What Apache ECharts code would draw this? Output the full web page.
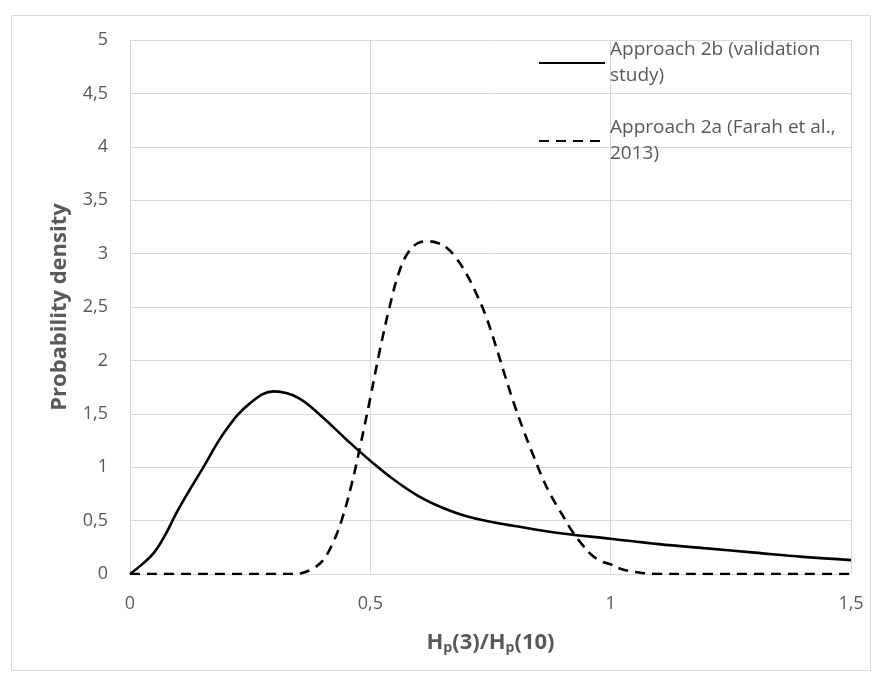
<!DOCTYPE html>
<html>
<head>
<meta charset="utf-8">
<script src="https://cdn.jsdelivr.net/npm/echarts@6/dist/echarts.min.js"></script>
<style>html,body{margin:0;padding:0;background:#fff}#c{width:878px;height:680px}</style>
</head>
<body>
<div id="c"></div>
<script>
// Approach 2b (validation study) - solid
const xB = [0, 0.025, 0.05, 0.075, 0.1, 0.15, 0.2, 0.25, 0.3, 0.35, 0.4, 0.45, 0.5, 0.55, 0.6, 0.65, 0.7, 0.75, 0.8, 0.9, 1.0, 1.1, 1.2, 1.3, 1.4, 1.5];
const yB = [0, 0.09, 0.2, 0.38, 0.6, 0.98, 1.35, 1.6, 1.71, 1.65, 1.47, 1.26, 1.06, 0.88, 0.73, 0.62, 0.54, 0.49, 0.45, 0.38, 0.33, 0.28, 0.24, 0.2, 0.16, 0.13];
// Approach 2a (Farah et al., 2013) - dashed
const xA = [0, 0.1, 0.2, 0.3, 0.34, 0.36, 0.38, 0.4, 0.42, 0.44, 0.46, 0.48, 0.5, 0.52, 0.54, 0.56, 0.58, 0.6, 0.62, 0.64, 0.66, 0.68, 0.7, 0.72, 0.74, 0.76, 0.78, 0.8, 0.82, 0.84, 0.86, 0.88, 0.9, 0.92, 0.94, 0.96, 0.98, 1.0, 1.02, 1.05, 1.1, 1.2, 1.3, 1.4, 1.5];
const yA = [0, 0, 0, 0, 0, 0.012, 0.05, 0.12, 0.27, 0.5, 0.82, 1.22, 1.65, 2.1, 2.5, 2.83, 3.02, 3.1, 3.115, 3.1, 3.05, 2.95, 2.81, 2.63, 2.42, 2.15, 1.86, 1.58, 1.33, 1.1, 0.88, 0.7, 0.55, 0.4, 0.28, 0.18, 0.12, 0.09, 0.05, 0.02, 0, 0, 0, 0, 0];
const seriesNames = ['Approach 2b (validation\nstudy)', 'Approach 2a (Farah et al.,\n2013)'];
const xTicks = [0, 0.5, 1, 1.5];
const yTicks = [0, 0.5, 1, 1.5, 2, 2.5, 3, 3.5, 4, 4.5, 5];

const FONT = '"Open Sans", "Noto Sans", sans-serif';
const TXT = '#595959';
const GRID = '#d9d9d9';
const fmt = v => String(v).replace('.', ',');

const chart = echarts.init(document.getElementById('c'), null, {renderer: 'canvas'});
chart.setOption({
  animation: false,
  backgroundColor: '#fff',
  textStyle: {fontFamily: FONT},
  graphic: [{
    type: 'rect', left: 9, top: 13, silent: true,
    shape: {width: 859, height: 655},
    style: {fill: 'none', stroke: GRID, lineWidth: 1}
  }],
  grid: {left: 130, right: 27, top: 40, bottom: 106},
  legend: {
    orient: 'vertical', left: 533, top: 19, itemGap: 0,
    itemWidth: 66, itemHeight: 14,
    data: seriesNames,
    itemStyle: {opacity: 0},
    textStyle: {fontFamily: FONT, fontSize: 19, color: TXT, lineHeight: 26, padding: [26, 0, 0, 0]}
  },
  xAxis: {
    type: 'value', min: xTicks[0], max: xTicks[xTicks.length - 1], interval: 0.5,
    axisLine: {show: true, lineStyle: {color: GRID, width: 1}},
    axisTick: {show: false},
    splitLine: {show: true, lineStyle: {color: GRID, width: 1}},
    axisLabel: {formatter: fmt, fontSize: 18, color: TXT, margin: 21, fontFamily: FONT},
    name: '{b|H}{s|p}{b|(3)/H}{s|p}{b|(10)}',
    nameLocation: 'middle', nameGap: 55,
    nameTextStyle: {
      rich: {
        b: {fontSize: 22, fontWeight: 'bold', color: TXT, fontFamily: FONT, lineHeight: 28},
        s: {fontSize: 14, fontWeight: 'bold', color: TXT, fontFamily: FONT, padding: [11, 0, 0, 0], lineHeight: 28}
      }
    }
  },
  yAxis: {
    type: 'value', min: yTicks[0], max: yTicks[yTicks.length - 1], interval: 0.5,
    axisLine: {show: false},
    axisTick: {show: false},
    splitLine: {show: true, lineStyle: {color: GRID, width: 1}},
    axisLabel: {formatter: fmt, fontSize: 18, color: TXT, margin: 22, fontFamily: FONT},
    name: 'Probability density',
    nameLocation: 'middle', nameGap: 59,
    nameTextStyle: {fontSize: 22, fontWeight: 'bold', color: TXT, fontFamily: FONT}
  },
  series: [
    {
      name: seriesNames[0], type: 'line', smooth: 0.4, symbol: 'none',
      data: xB.map((x, i) => [x, yB[i]]),
      lineStyle: {color: '#000', width: 2.6, type: 'solid'},
      itemStyle: {color: '#000'}
    },
    {
      name: seriesNames[1], type: 'line', smooth: 0.4, symbol: 'none',
      data: xA.map((x, i) => [x, yA[i]]),
      lineStyle: {color: '#000', width: 2.6, type: [10, 7]},
      itemStyle: {color: '#000'}
    }
  ]
});
</script>
</body>
</html>
